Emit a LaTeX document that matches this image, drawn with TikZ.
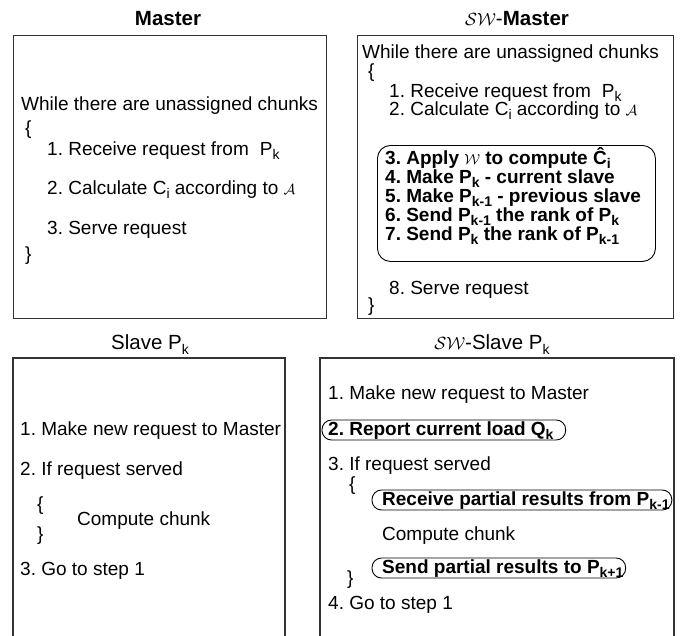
\documentclass[tikz,border=0pt]{standalone}
\usepackage{fontspec}
\setmainfont{Liberation Sans}
\frenchspacing
\newcommand{\sbs}[1]{\raisebox{-0.26em}{\fontsize{14}{14}\selectfont #1}}
\newcommand{\scr}[1]{$\mathcal{#1}$}
\newcommand{\tscr}[1]{\scalebox{0.85}{$\mathcal{#1}$}}
\begin{document}
\begin{tikzpicture}[x=1pt,y=-1pt,
  txt/.style={anchor=base west, inner sep=0pt, font=\fontsize{19}{22}\selectfont},
  btxt/.style={anchor=base west, inner sep=0pt, font=\fontsize{19}{22}\selectfont\bfseries},
  ttl/.style={anchor=base, inner sep=0pt, font=\fontsize{20.5}{24}\selectfont},
  frame/.style={draw=black!80, line width=1.3pt},
  pill/.style={draw=black, line width=0.9pt, rounded corners=9.5pt},
  rbox/.style={draw=black, line width=0.9pt, rounded corners=13pt}
]
\useasboundingbox (0,0) rectangle (680,635);

% ---------- titles ----------
\node[ttl, font=\fontsize{20.5}{24}\selectfont\bfseries] (tm) at (168,25) {Master};
\node[ttl] (tsm) at (517,25) {\tscr{SW}-\textbf{Master}};
\node[ttl] (ts) at (150,349) {Slave P\sbs{k}};
\node[ttl] (tss) at (492,349) {\tscr{SW}-Slave P\sbs{k}};

% ---------- Master ----------
\node[frame, anchor=north west, inner sep=0pt, minimum width=313pt, minimum height=283pt] (mbox) at (13,35) {};
\node[txt] (m0) at (21,110) {While there are unassigned chunks};
\node[txt] (m1) at (25,134) {\{};
\node[txt] (m2) at (47,155) {1. Receive request from\hspace{0.3em} P\sbs{k}};
\node[txt] (m3) at (47,194) {2. Calculate C\sbs{i} according to \tscr{A}};
\node[txt] (m4) at (47,234) {3. Serve request};
\node[txt] (m5) at (25,260) {\}};

% ---------- SW-Master ----------
\node[frame, anchor=north west, inner sep=0pt, minimum width=316pt, minimum height=283pt] (smbox) at (357,35) {};
\node[txt] (s0) at (362,58) {While there are unassigned chunks};
\node[txt] (s1) at (368,77) {\{};
\node[txt] (s2) at (389,97) {1. Receive request from\hspace{0.3em} P\sbs{k}};
\node[txt] (s3) at (389,115) {2. Calculate C\sbs{i} according to \tscr{A}};
\node[btxt] (b3) at (385,164) {3. Apply \tscr{W}\ to compute Ĉ\sbs{i}};
\node[btxt] (b4) at (385,183) {4. Make P\sbs{k} - current slave};
\node[btxt] (b5) at (385,202) {5. Make P\sbs{k-1} - previous slave};
\node[btxt] (b6) at (385,221) {6. Send P\sbs{k-1} the rank of P\sbs{k}};
\node[btxt] (b7) at (385,240) {7. Send P\sbs{k} the rank of P\sbs{k-1}};
\node[rbox, anchor=north west, inner sep=0pt, minimum width=278pt, minimum height=116pt] (wbox) at (377,145) {};
\node[txt] (s8) at (389,294) {8. Serve request};
\node[txt] (s9) at (368,311) {\}};

% ---------- Slave ----------
\coordinate (sl1) at (13,636);
\coordinate (sl2) at (285,636);
\draw[frame] (sl1) |- (285,358) -- (sl2);
\node[txt] (l1) at (20,435) {1. Make new request to Master};
\node[txt] (l2) at (20,475) {2. If request served};
\node[txt] (l3) at (37,510) {\{};
\node[txt] (l4) at (77,525) {Compute chunk};
\node[txt] (l5) at (37,540) {\}};
\node[txt] (l6) at (20,575) {3. Go to step 1};

% ---------- SW-Slave ----------
\coordinate (ss1) at (320,636);
\coordinate (ss2) at (674,636);
\draw[frame] (ss1) |- (674,358) -- (ss2);
\node[txt] (w1) at (328,399) {1. Make new request to Master};
\node[btxt] (w2) at (328,435) {2. Report current load Q\sbs{k}};
\draw[pill] ([shift={(-6,-15)}]w2.base west) rectangle ([shift={(12,5)}]w2.base east);
\node[txt] (w3) at (328,470) {3. If request served};
\node[txt] (w4) at (349,490) {\{};
\node[btxt] (w5) at (382,505) {Receive partial results from P\sbs{k-1}};
\draw[pill] ([shift={(-10,-15)}]w5.base west) rectangle ([shift={(2,5)}]w5.base east);
\node[txt] (w6) at (382,540) {Compute chunk};
\node[btxt] (w7) at (382,573) {Send partial results to P\sbs{k+1}};
\draw[pill] ([shift={(-10,-15)}]w7.base west) rectangle ([shift={(2,5)}]w7.base east);
\node[txt] (w8) at (347,584) {\}};
\node[txt] (w9) at (328,609) {4. Go to step 1};
\end{tikzpicture}
\end{document}
